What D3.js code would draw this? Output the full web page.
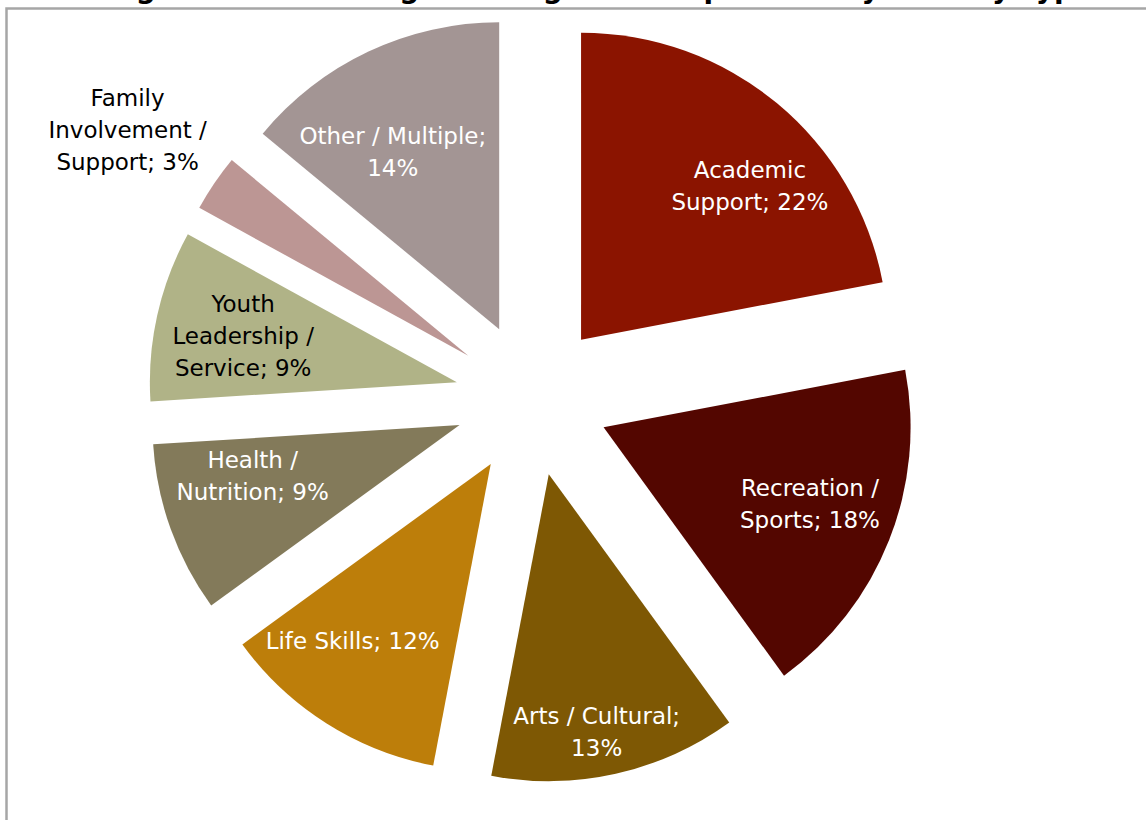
<!DOCTYPE html>
<html>
<head>
<meta charset="utf-8">
<script src="https://cdn.jsdelivr.net/npm/d3@7"></script>
<style>
  html, body { margin: 0; padding: 0; background: #ffffff; }
  svg { display: block; }
</style>
</head>
<body>
<svg id="chart" width="1146" height="820"></svg>
<script>
// Share of components by activity type (percent), clockwise from 12 o'clock
const categories = [
  "Academic Support", "Recreation / Sports", "Arts / Cultural", "Life Skills",
  "Health / Nutrition", "Youth Leadership / Service", "Family Involvement / Support", "Other / Multiple"
];
const shares = [22, 18, 13, 12, 9, 9, 3, 14];

// How each category name wraps in its label
const nameLines = [
  ["Academic", "Support"],
  ["Recreation /", "Sports"],
  ["Arts / Cultural"],
  ["Life Skills"],
  ["Health /", "Nutrition"],
  ["Youth", "Leadership /", "Service"],
  ["Family", "Involvement /", "Support"],
  ["Other / Multiple"]
];
// Whether the percentage sits on its own line
const pctOwnLine = [false, false, true, false, false, false, false, true];

const sliceColors = ["#8b1400", "#530600", "#7e5804", "#bd7e0a", "#837a5a", "#b0b387", "#bc9694", "#a39594"];
const labelColors = ["#ffffff", "#ffffff", "#ffffff", "#ffffff", "#ffffff", "#000000", "#000000", "#ffffff"];
// label distance from centre as a fraction of the radius (beyond 1 = outside the slice)
const labelRadiusFrac = [0.73, 0.73, 0.73, 0.73, 0.73, 0.73, 1.33, 0.73];
// small hand adjustments of label placement, in pixels
const labelNudge = [[26, 19], [-2, -6], [-1, 39], [-18, -12], [4, -25], [5, 3], [-3, 4], [-11, 25]];

const titleText = "Figure 4. Percentage of Program Components by Activity Type";

const W = 1146, H = 820;
const cx = 532, cy = 399;
const radius = 307;
const explode = 77;
const fontSize = 23;
const lineHeight = 32;

const svg = d3.select("#chart");

// Title (sits mostly above the visible area)
svg.append("text")
  .attr("x", 600)
  .attr("y", -2)
  .attr("text-anchor", "middle")
  .attr("font-family", "DejaVu Sans, Verdana, sans-serif")
  .attr("font-weight", "bold")
  .attr("font-size", 28)
  .attr("fill", "#000")
  .text(titleText);

// Chart frame
svg.append("rect")
  .attr("x", 6.5)
  .attr("y", 8.5)
  .attr("width", W + 20)
  .attr("height", H + 20)
  .attr("fill", "none")
  .attr("stroke", "#a6a6a6")
  .attr("stroke-width", 2.5);

const pie = d3.pie().sort(null).value(d => d).startAngle(0).endAngle(2 * Math.PI);
const arcs = pie(shares);
const arc = d3.arc().innerRadius(0).outerRadius(radius);

const g = svg.append("g").attr("transform", `translate(${cx},${cy})`);

const midAngle = d => (d.startAngle + d.endAngle) / 2;

g.selectAll("path.slice")
  .data(arcs)
  .join("path")
  .attr("class", "slice")
  .attr("d", arc)
  .attr("fill", (d, i) => sliceColors[i])
  .attr("transform", d => {
    const a = midAngle(d);
    return `translate(${explode * Math.sin(a)},${-explode * Math.cos(a)})`;
  });

// Data labels
const labels = g.selectAll("text.label")
  .data(arcs)
  .join("text")
  .attr("class", "label")
  .attr("text-anchor", "middle")
  .attr("font-family", "DejaVu Sans, Verdana, sans-serif")
  .attr("font-size", fontSize)
  .attr("fill", (d, i) => labelColors[i]);

labels.each(function (d, i) {
  const lines = nameLines[i].slice();
  const pct = d.data + "%";
  const last = lines.length - 1;
  if (pctOwnLine[i]) {
    lines[last] = lines[last] + ";";
    lines.push(pct);
  } else {
    lines[last] = lines[last] + "; " + pct;
  }
  const a = midAngle(d);
  const dist = explode + labelRadiusFrac[i] * radius;
  const x = dist * Math.sin(a) + labelNudge[i][0];
  const y = -dist * Math.cos(a) + labelNudge[i][1];
  const top = y - (lines.length - 1) * lineHeight / 2;
  d3.select(this).selectAll("tspan")
    .data(lines)
    .join("tspan")
    .attr("x", x)
    .attr("y", (t, k) => top + k * lineHeight)
    .attr("dy", "0.35em")
    .text(t => t);
});
</script>
</body>
</html>
